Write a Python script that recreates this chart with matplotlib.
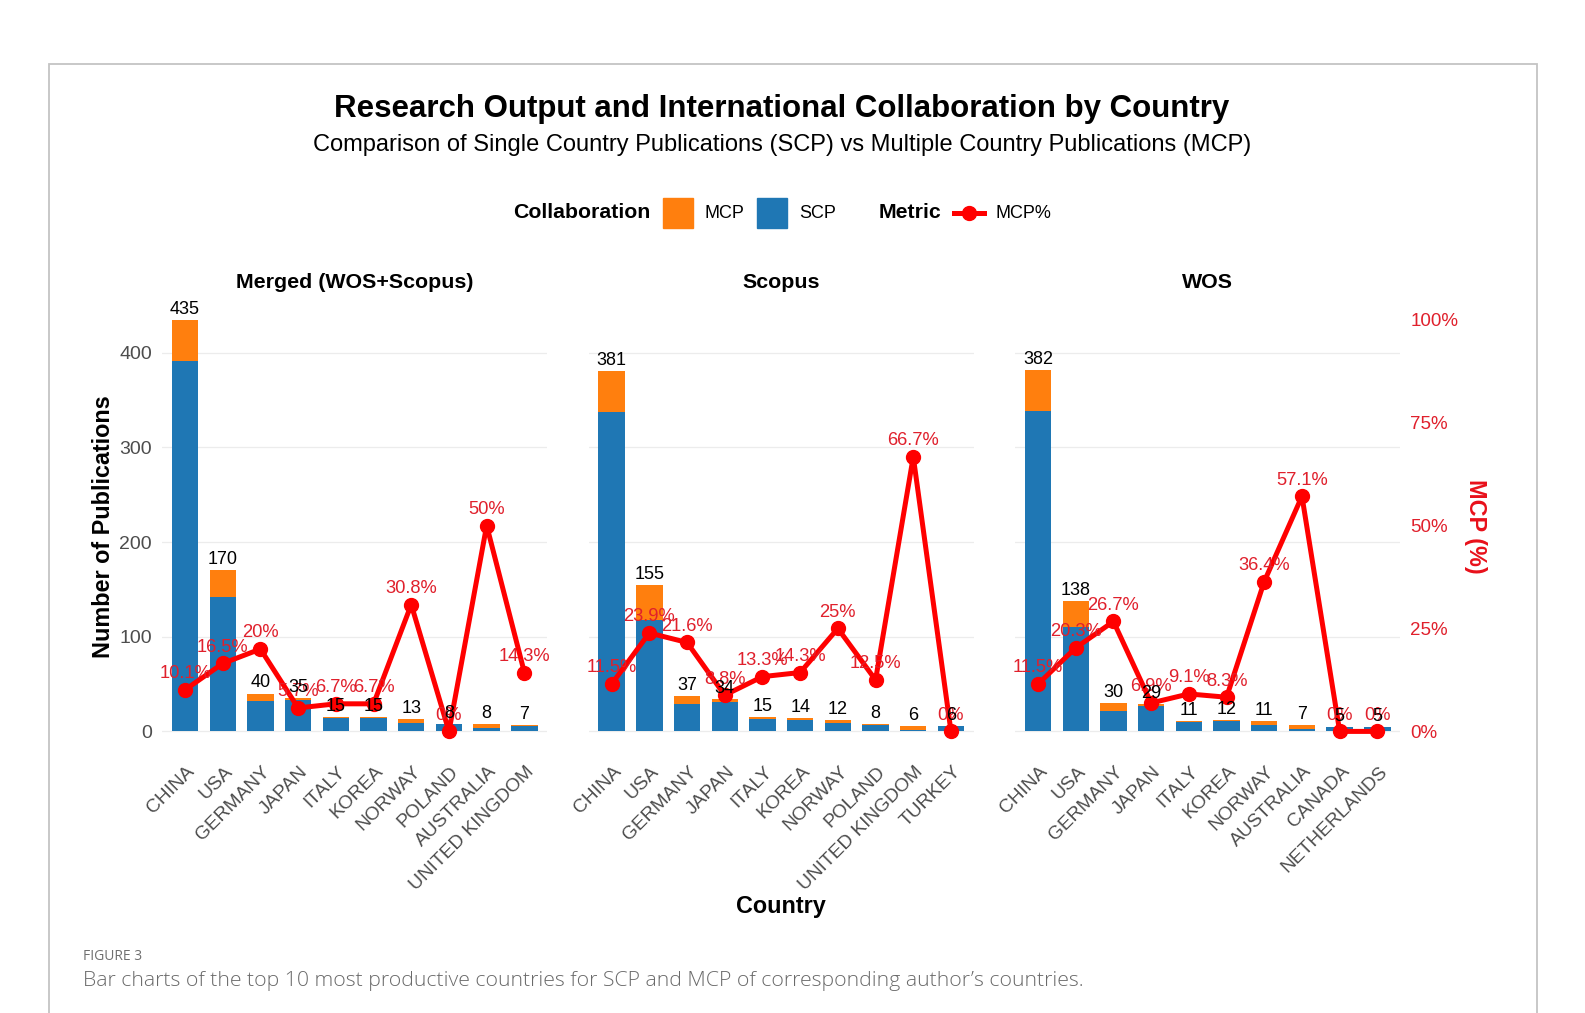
import numpy as np
import matplotlib
matplotlib.use("Agg")
import matplotlib.pyplot as plt
import matplotlib.transforms as mtransforms
from matplotlib.patches import Rectangle
from matplotlib.lines import Line2D

# data
countries_merged = ["CHINA", "USA", "GERMANY", "JAPAN", "ITALY", "KOREA",
                    "NORWAY", "POLAND", "AUSTRALIA", "UNITED KINGDOM"]
total_merged = [435, 170, 40, 35, 15, 15, 13, 8, 8, 7]
mcp_merged = [44, 28, 8, 2, 1, 1, 4, 0, 4, 1]
pct_merged = [10.1, 16.5, 20.0, 5.7, 6.7, 6.7, 30.8, 0.0, 50.0, 14.3]

countries_scopus = ["CHINA", "USA", "GERMANY", "JAPAN", "ITALY", "KOREA",
                    "NORWAY", "POLAND", "UNITED KINGDOM", "TURKEY"]
total_scopus = [381, 155, 37, 34, 15, 14, 12, 8, 6, 6]
mcp_scopus = [44, 37, 8, 3, 2, 2, 3, 1, 4, 0]
pct_scopus = [11.5, 23.9, 21.6, 8.8, 13.3, 14.3, 25.0, 12.5, 66.7, 0.0]

countries_wos = ["CHINA", "USA", "GERMANY", "JAPAN", "ITALY", "KOREA",
                 "NORWAY", "AUSTRALIA", "CANADA", "NETHERLANDS"]
total_wos = [382, 138, 30, 29, 11, 12, 11, 7, 5, 5]
mcp_wos = [44, 28, 8, 2, 1, 1, 4, 4, 0, 0]
pct_wos = [11.5, 20.3, 26.7, 6.9, 9.1, 8.3, 36.4, 57.1, 0.0, 0.0]

panel_titles = ["Merged (WOS+Scopus)", "Scopus", "WOS"]
pct_ticks = [0, 25, 50, 75, 100]
count_ticks = [0, 100, 200, 300, 400]

SCALE = 4.35  # secondary axis: % * 4.35 = publications

ORANGE = "#FF7F0E"
BLUE = "#1F77B4"
RED = "#FF0000"
PCT_RED = "#E0202C"
TICK_GREY = "#4D4D4D"

plt.rcParams["font.family"] = ["Liberation Sans", "DejaVu Sans"]

W, H = 1585, 1013
fig = plt.figure(figsize=(W / 100, H / 100), dpi=100)


def fx(px):
    return px / W


def fy(py):
    return 1 - py / H


# paper frame
fig.add_artist(Rectangle((fx(48.5), fy(1040)), fx(1537 - 48.5), (1040 - 64) / H,
                         transform=fig.transFigure, fill=False,
                         edgecolor="#c4c4c4", lw=1.3))

panels = [
    (countries_merged, total_merged, mcp_merged, pct_merged),
    (countries_scopus, total_scopus, mcp_scopus, pct_scopus),
    (countries_wos, total_wos, mcp_wos, pct_wos),
]
lefts = [162.4, 589.0, 1015.4]
ylo, yhi = -21.75, 456.75

tick_shift = mtransforms.ScaledTranslation(1 / 100, -11 / 100, fig.dpi_scale_trans)

for i, (countries, total, mcp, pct) in enumerate(panels):
    ax = fig.add_axes([fx(lefts[i]), fy(752), 384.6 / W, 453 / H])
    x = np.arange(len(countries))
    scp = [t - m for t, m in zip(total, mcp)]
    ax.bar(x, scp, width=0.7, color=BLUE, zorder=2)
    ax.bar(x, mcp, bottom=scp, width=0.7, color=ORANGE, zorder=2)
    yline = [p * SCALE for p in pct]
    ax.plot(x, yline, color=RED, lw=3.6, marker="o", ms=10, zorder=3, clip_on=False)
    for xi, yi, p in zip(x, yline, pct):
        ax.annotate(f"{p:g}%", (xi, yi), xytext=(0, 5.5), textcoords="offset points",
                    ha="center", va="bottom", color=PCT_RED, fontsize=13.2, zorder=4)
    for xi, t in zip(x, total):
        ax.annotate(str(t), (xi, t), xytext=(0, 1.5), textcoords="offset points",
                    ha="center", va="bottom", color="black", fontsize=13, zorder=5)

    ax.set_xlim(-0.6, 9.6)
    ax.set_ylim(ylo, yhi)
    ax.set_yticks(count_ticks)
    ax.yaxis.grid(True, color="#ececec", lw=0.9)
    ax.set_axisbelow(True)
    for s in ax.spines.values():
        s.set_visible(False)
    ax.tick_params(length=0, labelcolor=TICK_GREY)
    ax.tick_params(axis="y", pad=7.5, labelsize=14)
    ax.set_xticks(x)
    ax.set_xticklabels(countries, rotation=45, ha="right", va="top",
                       rotation_mode="anchor")
    ax.tick_params(axis="x", pad=0, labelsize=13.8)
    for lab in ax.get_xticklabels():
        lab.set_transform(lab.get_transform() + tick_shift)
    if i > 0:
        ax.tick_params(labelleft=False)
    ax.set_title(panel_titles[i], fontsize=15.4, fontweight="bold", pad=8)

    if i == 2:
        ax2 = ax.twinx()
        ax2.set_ylim(ylo / SCALE, yhi / SCALE)
        ax2.set_yticks(pct_ticks)
        ax2.set_yticklabels([f"{t}%" for t in pct_ticks])
        ax2.tick_params(length=0, labelsize=13.5, labelcolor=PCT_RED, pad=7.5)
        for s in ax2.spines.values():
            s.set_visible(False)

# titles
fig.text(fx(782), fy(109), "Research Output and International Collaboration by Country",
         ha="center", va="center", fontsize=22.5, fontweight="bold")
fig.text(fx(782), fy(144.5), "Comparison of Single Country Publications (SCP) vs Multiple Country Publications (MCP)",
         ha="center", va="center", fontsize=17)

# axis titles
fig.text(fx(103), fy(527), "Number of Publications", rotation=90,
         ha="center", va="center", fontsize=16.8, fontweight="bold")
fig.text(fx(781), fy(906), "Country", ha="center", va="center",
         fontsize=16.8, fontweight="bold")
fig.text(fx(1476), fy(526), "MCP (%)", rotation=270, ha="center", va="center",
         fontsize=16.8, fontweight="bold", color="#E8101A")

# legend
ly = 213
fig.text(fx(513.6), fy(ly), "Collaboration", ha="left", va="center",
         fontsize=15.3, fontweight="bold")
fig.add_artist(Rectangle((fx(662.5), fy(228)), 30 / W, 30 / H,
                         transform=fig.transFigure, color=ORANGE))
fig.text(fx(705), fy(ly), "MCP", ha="left", va="center", fontsize=13)
fig.add_artist(Rectangle((fx(756.5), fy(228)), 30 / W, 30 / H,
                         transform=fig.transFigure, color=BLUE))
fig.text(fx(799), fy(ly), "SCP", ha="left", va="center", fontsize=13)
fig.text(fx(878.6), fy(ly), "Metric", ha="left", va="center",
         fontsize=15.3, fontweight="bold")
fig.add_artist(Line2D([fx(954), fx(984)], [fy(ly), fy(ly)], transform=fig.transFigure,
                      color=RED, lw=3.6))
fig.add_artist(Line2D([fx(969)], [fy(ly)], transform=fig.transFigure,
                      color=RED, marker="o", ms=10))
fig.text(fx(995.5), fy(ly), "MCP%", ha="left", va="center", fontsize=13)

# caption
fig.text(fx(83), fy(956), "FIGURE 3", ha="left", va="center", fontsize=10,
         color="#6f6f6f", family=["Open Sans", "DejaVu Sans"])
fig.text(fx(83), fy(981),
         "Bar charts of the top 10 most productive countries for SCP and MCP of corresponding author\u2019s countries.",
         ha="left", va="center", fontsize=15.35, color="#6a6a6a", fontweight="light",
         family=["Open Sans", "DejaVu Sans"])

fig.savefig("out.png", dpi=100, facecolor="white")
